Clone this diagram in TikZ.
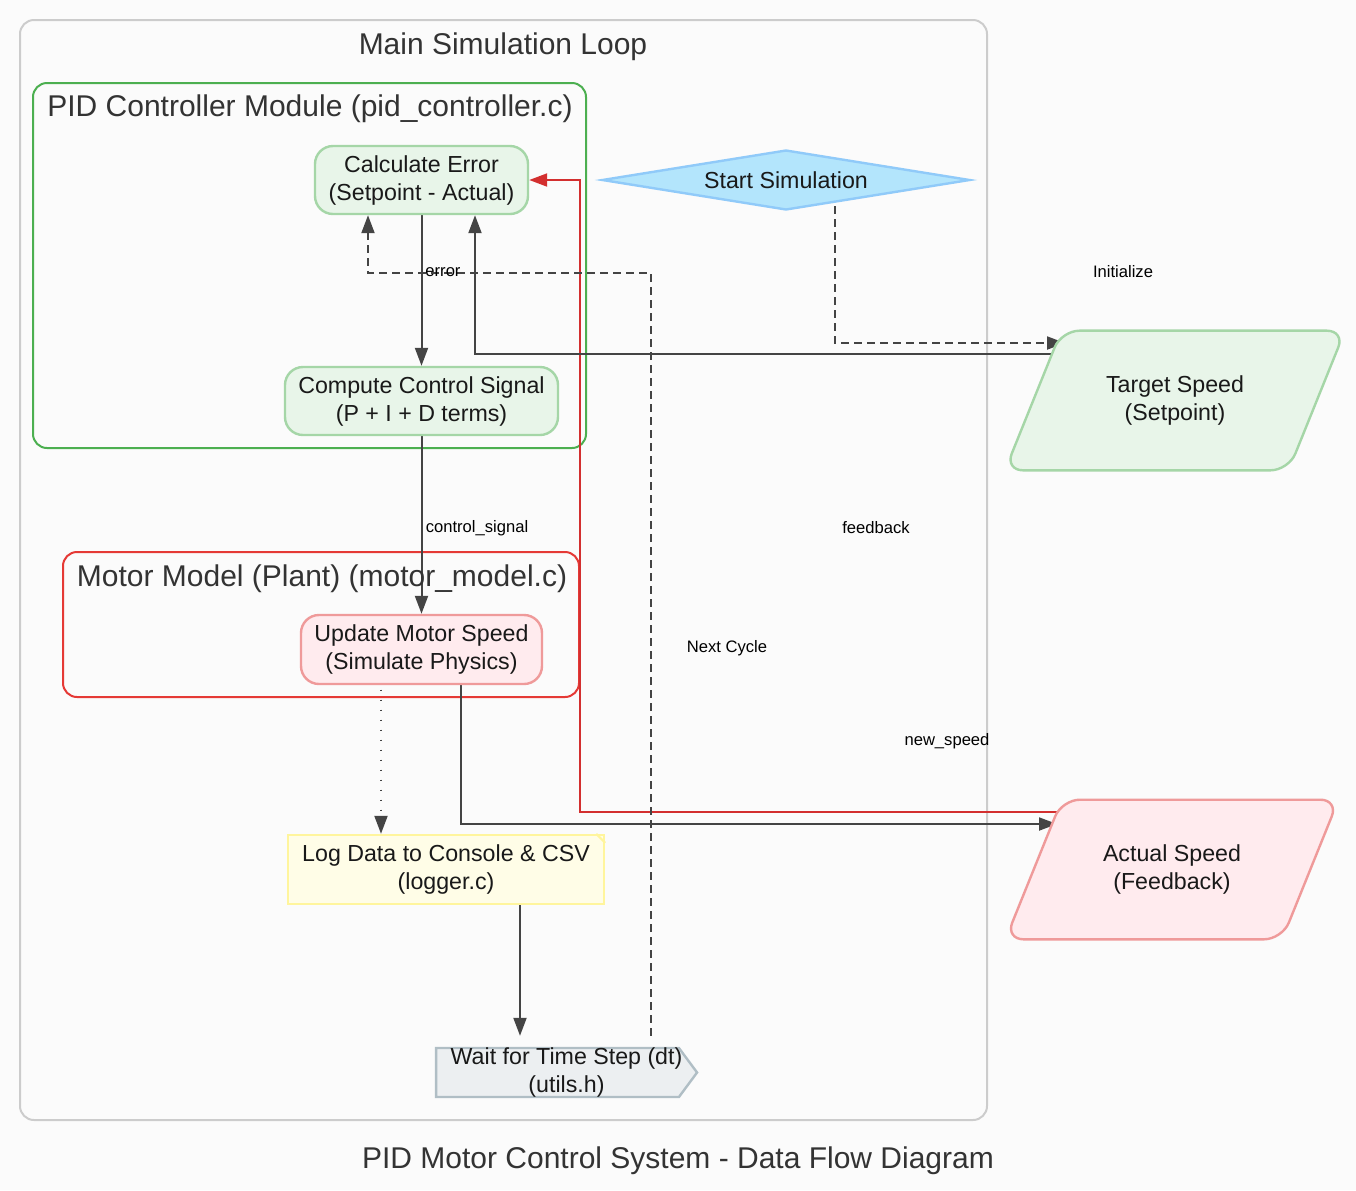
\documentclass[tikz,border=0pt]{standalone}
\usepackage{fontspec}
\setmainfont{Liberation Sans}
\usetikzlibrary{shapes.geometric,shapes.symbols,arrows.meta,calc}
\definecolor{bgc}{HTML}{FBFBFB}
\definecolor{clgray}{HTML}{CCCCCC}
\definecolor{clgreen}{HTML}{4CAF50}
\definecolor{clred}{HTML}{E53935}
\definecolor{gnfill}{HTML}{E8F5E9}
\definecolor{gnline}{HTML}{A5D6A7}
\definecolor{rdfill}{HTML}{FFEBEE}
\definecolor{rdline}{HTML}{EF9A9A}
\definecolor{ylfill}{HTML}{FFFDE7}
\definecolor{ylline}{HTML}{FFF59D}
\definecolor{gyfill}{HTML}{ECEFF1}
\definecolor{gyline}{HTML}{B0BEC5}
\definecolor{blfill}{HTML}{B3E5FC}
\definecolor{blline}{HTML}{90CAF9}
\definecolor{edgec}{HTML}{444444}
\definecolor{fbred}{HTML}{D32F2F}
\definecolor{ttlc}{HTML}{333333}
\pgfdeclarelayer{bg}
\pgfdeclarelayer{edges}
\pgfsetlayers{bg,edges,main}
\tikzset{
    clus/.style={line width=1pt, rounded corners=7pt},
    ttl/.style={text=ttlc, font=\fontsize{15}{17}\selectfont, inner sep=0pt},
    box/.style={line width=1.2pt, align=center, inner sep=0pt, text=black!90,
        font=\fontsize{11.6}{14}\selectfont},
    proc/.style={box, rectangle, rounded corners=9pt},
    iobox/.style={box, trapezium, trapezium left angle=68, trapezium right angle=112,
        trapezium stretches body, inner ysep=22.5pt, rounded corners=9pt},
    lbl/.style={font=\fontsize{8.3}{10}\selectfont, inner sep=0pt, text=black},
    flow/.style={draw=edgec, line width=1pt, -{Triangle[length=9pt,width=6.5pt]}},
    dsh/.style={dash pattern=on 4pt off 2.5pt},
    dots/.style={dash pattern=on 0.6pt off 4.4pt}
}
\begin{document}
\begin{tikzpicture}[x=0.5pt,y=-0.5pt]
    \begin{pgfonlayer}{bg}
        \fill[bgc] (0,0) rectangle (1356,1190);
        \draw[clus, draw=clgray] (20,20) rectangle (987,1120);
        \draw[clus, draw=clgreen] (33,83) rectangle (586,448);
        \draw[clus, draw=clred] (63,552) rectangle (579,697);
    \end{pgfonlayer}
    % cluster titles
    \node[ttl] (tmain) at (503,47) {Main Simulation Loop};
    \node[ttl] (tpid) at (310,109) {PID Controller Module (pid\_controller.c)};
    \node[ttl] (tmot) at (322,579) {Motor Model (Plant) (motor\_model.c)};
    \node[ttl] (tcap) at (678,1161) {PID Motor Control System - Data Flow Diagram};
    % nodes
    \node[proc, fill=gnfill, draw=gnline, minimum width=106.5pt, minimum height=34pt] (calc) at (421.5,180) {Calculate Error\\(Setpoint - Actual)};
    \node[proc, fill=gnfill, draw=gnline, minimum width=136.5pt, minimum height=34pt] (comp) at (421.5,401) {Compute Control Signal\\(P + I + D terms)};
    \node[proc, fill=rdfill, draw=rdline, minimum width=120.5pt, minimum height=34.5pt] (upd) at (421.5,649.5) {Update Motor Speed\\(Simulate Physics)};
    \node[box, rectangle, fill=ylfill, draw=ylline, minimum width=158pt, minimum height=34.5pt] (log) at (446,869.5) {Log Data to Console \& CSV\\(logger.c)};
    \draw[ylline, line width=1pt] ($(log.north east)+(-9,0)$) -- ($(log.north east)+(0,9)$);
    \node[box, signal, signal to=east, signal pointer angle=107, inner ysep=-1.75pt, fill=gyfill, draw=gyline, minimum width=130.5pt] (wait) at (557.5,1072.5) {\begin{tabular}{@{}c@{}}Wait for Time Step (dt)\\(utils.h)\end{tabular}\hspace*{-9pt}};
    \node[box, diamond, aspect=6.2, fill=blfill, draw=blline, minimum width=184pt, minimum height=30pt] (start) at (786,180) {Start Simulation};
    \node[iobox, fill=gnfill, draw=gnline, minimum width=170pt] (tgt) at (1175,400.5) {Target Speed\\(Setpoint)};
    \node[iobox, fill=rdfill, draw=rdline, minimum width=166.5pt] (act) at (1172,869.5) {Actual Speed\\(Feedback)};
    % edge labels
    \node[lbl] (lerr) at (443,272) {error};
    \node[lbl] (lctl) at (477,528) {control\_signal};
    \node[lbl] (lfb) at (876,528) {feedback};
    \node[lbl] (lnext) at (727,648) {Next Cycle};
    \node[lbl] (lnew) at (947,741) {new\_speed};
    \node[lbl] (linit) at (1123,272) {Initialize};
    % connectors
    \begin{pgfonlayer}{edges}
        \draw[flow] (calc) -- (comp);
        \draw[flow] (comp) -- (upd);
        \draw[flow, dots] ($(upd.center)+(-40.5,0)$) -- ($(log.north)+(-65,0)$);
        \draw[flow] ($(upd.center)+(39.5,0)$) |- ($(act.center)+(-115,-45.5)$);
        \draw[flow, draw=fbred, -{Triangle[length=9pt,width=6.5pt,fill=fbred]}] ($(act.center)+(-110,-57.5)$) -| ($(calc.east)+(51,0)$) -- (calc.east);
        \draw[flow] ($(log.center)+(74,0)$) -- ($(wait.north)+(-37.5,-11)$);
        \draw[flow, dsh] ($(wait.north)+(93.5,-11)$) |- ($(calc.south)+(-53.5,58)$) -- ($(calc.south)+(-53.5,0)$);
        \draw[flow, dsh] ($(start.center)+(49,0)$) |- ($(tgt.center)+(-110,-57.5)$);
        \draw[flow] ($(tgt.center)+(-113,-46.5)$) -| ($(calc.south)+(53.5,0)$);
    \end{pgfonlayer}
\end{tikzpicture}
\end{document}
